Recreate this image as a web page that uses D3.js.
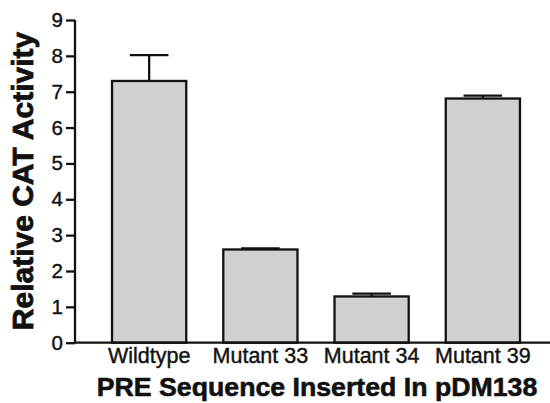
<!DOCTYPE html>
<html>
<head>
<meta charset="utf-8">
<script src="https://cdn.jsdelivr.net/npm/d3@7"></script>
<style>
  body { margin: 0; background: #fff; }
  svg { display: block; font-family: Arial, "Liberation Sans", sans-serif; }
</style>
</head>
<body>
<svg id="chart" width="550" height="403"></svg>
<script>
// Relative CAT activity per inserted PRE sequence
var categories = ['Wildtype', 'Mutant 33', 'Mutant 34', 'Mutant 39'];
var values = [7.30, 2.60, 1.29, 6.81];
var errors = [0.72, 0.03, 0.08, 0.08];
var yTicks = [0, 1, 2, 3, 4, 5, 6, 7, 8, 9];

var svg = d3.select('#chart');

var x = d3.scaleBand()
    .domain(categories)
    .range([75, 557])
    .paddingInner(0.333)
    .paddingOuter(0.333);

var y = d3.scaleLinear()
    .domain([0, 9])
    .range([342.7, 20]);

var data = categories.map(function(c, i) {
  return {name: c, value: values[i], err: errors[i]};
});

// bars
svg.selectAll('rect.bar')
    .data(data)
  .enter().append('rect')
    .attr('class', 'bar')
    .attr('x', function(d) { return x(d.name); })
    .attr('y', function(d) { return y(d.value); })
    .attr('width', x.bandwidth())
    .attr('height', function(d) { return y(0) - y(d.value); })
    .attr('fill', '#d0d0d0')
    .attr('stroke', '#111')
    .attr('stroke-width', 2.3);

// error bars (upper half only)
var capW = x.bandwidth() * 0.52;
var eb = svg.selectAll('g.err')
    .data(data)
  .enter().append('g')
    .attr('class', 'err')
    .attr('stroke', '#111')
    .attr('stroke-width', 2.3);

eb.append('line')
    .attr('x1', function(d) { return x(d.name) + x.bandwidth() / 2; })
    .attr('x2', function(d) { return x(d.name) + x.bandwidth() / 2; })
    .attr('y1', function(d) { return y(d.value); })
    .attr('y2', function(d) { return y(d.value + d.err); });

eb.append('line')
    .attr('x1', function(d) { return x(d.name) + x.bandwidth() / 2 - capW / 2; })
    .attr('x2', function(d) { return x(d.name) + x.bandwidth() / 2 + capW / 2; })
    .attr('y1', function(d) { return y(d.value + d.err); })
    .attr('y2', function(d) { return y(d.value + d.err); });

// y axis
var yAxis = svg.append('g')
    .attr('transform', 'translate(75,0)')
    .call(d3.axisLeft(y).tickValues(yTicks).tickFormat(d3.format('d')).tickSize(9).tickPadding(3));

yAxis.select('.domain').attr('d', 'M0,' + y(9) + 'V' + y(0));
yAxis.selectAll('line, path').attr('stroke', '#111').attr('stroke-width', 2.3);
yAxis.selectAll('text')
    .attr('fill', '#111')
    .attr('stroke', '#111')
    .attr('stroke-width', 0.4)
    .style('font-size', '20.5px')
    .style('font-family', 'Arial, "Liberation Sans", sans-serif');

// x axis line
svg.append('line')
    .attr('x1', 74)
    .attr('x2', 550)
    .attr('y1', y(0))
    .attr('y2', y(0))
    .attr('stroke', '#111')
    .attr('stroke-width', 2.3);

svg.selectAll('text.xlab')
    .data(categories)
  .enter().append('text')
    .attr('class', 'xlab')
    .attr('x', function(d) { return x(d) + x.bandwidth() / 2; })
    .attr('y', 363)
    .attr('text-anchor', 'middle')
    .attr('fill', '#111')
    .attr('stroke', '#111')
    .attr('stroke-width', 0.4)
    .style('font-size', '21.5px')
    .text(function(d) { return d; });

// axis titles
svg.append('text')
    .attr('x', 317)
    .attr('y', 396)
    .attr('text-anchor', 'middle')
    .attr('fill', '#111')
    .attr('stroke', '#111')
    .attr('stroke-width', 0.6)
    .style('font-size', '26.7px')
    .style('font-weight', 'bold')
    .text('PRE Sequence Inserted In pDM138');

svg.append('text')
    .attr('transform', 'translate(33,181) rotate(-90)')
    .attr('text-anchor', 'middle')
    .attr('fill', '#111')
    .attr('stroke', '#111')
    .attr('stroke-width', 0.8)
    .style('font-size', '30px')
    .style('font-weight', 'bold')
    .text('Relative CAT Activity');
</script>
</body>
</html>
